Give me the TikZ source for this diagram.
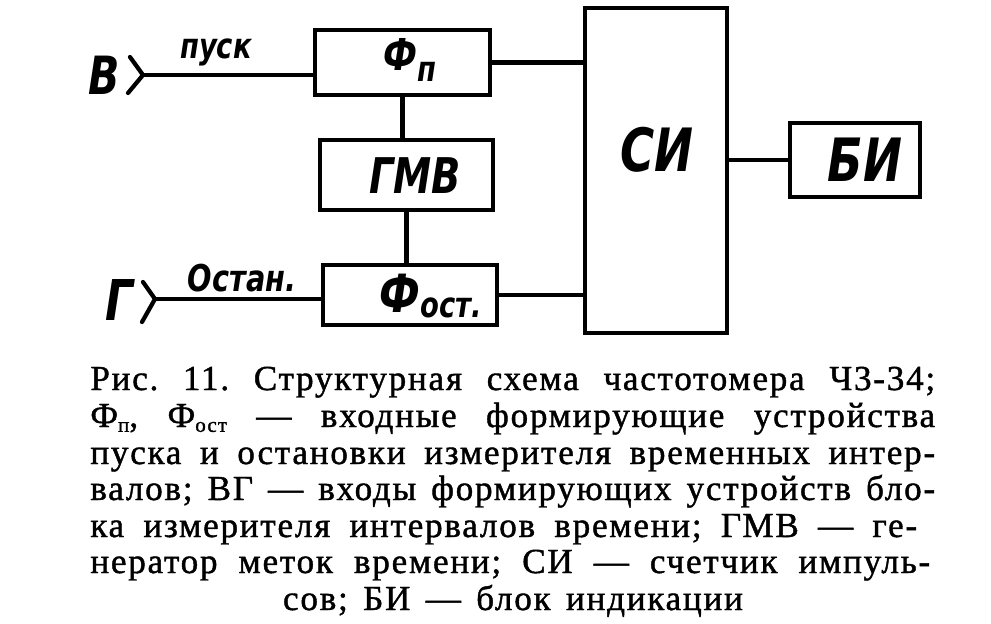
\documentclass[tikz,border=0pt]{standalone}
\usepackage{fontspec}
\setmainfont{Liberation Serif}
\newfontfamily\capfont{Liberation Serif}[LetterSpace=5, FakeBold=1.2]
\newfontfamily\hand{DejaVu Sans}[FakeStretch=0.78]
\newcommand\capsub[1]{\raisebox{-0.3ex}{\fontsize{12}{12}\selectfont #1}}
\newcommand\hsub[2]{\raisebox{-#1}{\fontsize{20}{20}\selectfont #2}}
\begin{document}
\begin{tikzpicture}[x=0.02cm,y=-0.02cm,
  blk/.style={draw, line width=2.4pt, inner sep=0pt},
  wire/.style={line width=2.4pt, line cap=round, line join=round},
  hw/.style={inner sep=0pt, font=\hand\bfseries\itshape},
  capline/.style={anchor=base west, inner sep=0pt, font=\capfont\fontsize{20}{20}\selectfont\frenchspacing}]
\useasboundingbox (0,0) rectangle (991,623);

% blocks
\node[blk, minimum width=3.5cm, minimum height=1.3cm] (fp) at (402.5,62.5) {};
\node[blk, minimum width=3.46cm, minimum height=1.4cm] (gmv) at (406.5,175) {};
\node[blk, minimum width=3.48cm, minimum height=1.2cm] (fo) at (410,295) {};
\node[blk, minimum width=2.84cm, minimum height=6.5cm] (si) at (656,170.5) {};
\node[blk, minimum width=2.6cm, minimum height=1.48cm] (bi) at (855,160) {};

% block texts
\node[hw, font=\hand\bfseries\itshape\fontsize{25}{25}\selectfont] (fpt) at (410,60) {Ф\hsub{6pt}{п}};
\node[hw, font=\hand\bfseries\itshape\fontsize{28}{28}\selectfont] (gmvt) at (415,176) {ГМВ};
\node[hw, font=\hand\bfseries\itshape\fontsize{30}{30}\selectfont] (fot) at (431,296) {Ф\hsub{3pt}{ост.}};
\node[hw, font=\hand\bfseries\itshape\fontsize{34}{34}\selectfont] (sit) at (657,150) {СИ};
\node[hw, font=\hand\bfseries\itshape\fontsize{34}{34}\selectfont] (bit) at (865,160) {БИ};

% connectors
\draw[wire] (fp.east) -- (fp.east -| si.west);
\draw[wire] (fo.east) -- (fo.east -| si.west);
\draw[wire] (si.east |- bi.west) -- (bi.west);
\draw[wire] (fp.south) -- (fp.south |- gmv.north);
\draw[wire] (gmv.south) -- (gmv.south |- fo.north);

% inputs
\coordinate (inB) at (143,75);
\draw[wire] (inB) -- (inB -| fp.west);
\draw[wire] (inB) ++(-13,-18) -- (inB) -- ++(-15,18);
\coordinate (inG) at (155,299);
\draw[wire] (inG) -- (inG -| fo.west);
\draw[wire] (inG) ++(-12,-17) -- (inG) -- ++(-13,23);

\node[hw, font=\hand\bfseries\itshape\fontsize{30}{30}\selectfont] (lB) at (104,75) {В};
\node[hw, font=\hand\bfseries\itshape\fontsize{20}{20}\selectfont] (lpusk) at (216,52) {пуск};
\node[hw, font=\hand\bfseries\itshape\fontsize{32}{32}\selectfont] (lG) at (119,300) {Г};
\node[hw, font=\hand\bfseries\itshape\fontsize{21}{21}\selectfont] (lost) at (242,278) {Остан.};

% caption
\node[capline] (c1) at (90,390) {\makebox[16.9cm][s]{Рис. 11. Структурная схема частотомера Ч3-34;}};
\node[capline] (c2) at (90,427) {\makebox[16.9cm][s]{Ф\capsub{п}, Ф\capsub{ост} — входные формирующие устройства}};
\node[capline] (c3) at (90,464) {\makebox[16.9cm][s]{пуска и остановки измерителя временных интер-}};
\node[capline] (c4) at (90,500) {\makebox[16.9cm][s]{валов; ВГ — входы формирующих устройств бло-}};
\node[capline] (c5) at (90,537) {\makebox[16.54cm][s]{ка измерителя интервалов времени; ГМВ — ге-}};
\node[capline] (c6) at (90,573) {\makebox[16.8cm][s]{нератор меток времени; СИ — счетчик импуль-}};
\node[capline, anchor=base] (c7) at (513,610) {\makebox[9.2cm][s]{сов; БИ — блок индикации}};
\end{tikzpicture}
\end{document}
